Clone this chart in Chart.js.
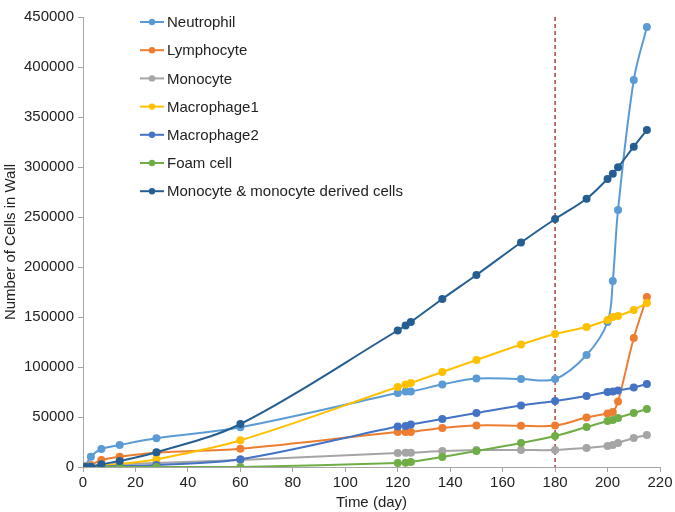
<!DOCTYPE html>
<html>
<head>
<meta charset="utf-8">
<script src="https://cdn.jsdelivr.net/npm/chart.js@4.4.1/dist/chart.umd.min.js"></script>
<style>
  html, body { margin: 0; padding: 0; background: #fff; }
  canvas { display: block; }
</style>
</head>
<body>
<canvas id="myChart" width="675" height="512"></canvas>
<script>
// time points (day)
const days = [1, 3, 7, 14, 28, 60, 120, 123, 125, 137, 150, 167, 180, 192, 200, 202, 204, 210, 215];

const neutrophil  = [1000, 10300, 18000, 22000, 28700, 39700, 74000, 75500, 75500, 82500, 88500, 88000, 88000, 112000, 145000, 186000, 257000, 387000, 440000];
const lymphocyte  = [500, 2000, 7000, 10300, 14300, 18300, 35000, 35000, 35000, 39000, 41500, 41300, 41500, 49500, 53500, 55000, 65500, 129000, 170000];
const monocyte    = [500, 1000, 2000, 3000, 4000, 7000, 14000, 14300, 14300, 16000, 17000, 17000, 17000, 19000, 21000, 22000, 24000, 29000, 32000];
const macrophage1 = [0, 300, 1300, 3000, 7700, 26700, 80000, 82500, 84000, 95000, 107000, 122500, 133000, 140000, 147000, 150000, 151000, 157000, 164000];
const macrophage2 = [0, 0, 300, 1000, 2000, 7700, 40500, 41000, 42500, 48000, 54000, 61500, 66000, 71000, 75000, 75500, 76500, 79500, 83000];
const foamCell    = [0, 0, 0, 0, 0, 0, 4000, 4300, 5000, 10000, 16000, 24000, 31000, 40000, 46000, 47000, 49000, 54000, 58000];
const monoDerived = [0, 300, 2700, 6000, 14700, 43000, 136500, 141500, 145000, 168000, 192000, 224500, 248000, 268300, 288000, 293300, 299700, 320300, 337000];

const seriesNames = ['Neutrophil', 'Lymphocyte', 'Monocyte', 'Macrophage1', 'Macrophage2', 'Foam cell', 'Monocyte & monocyte derived cells'];
const seriesValues = [neutrophil, lymphocyte, monocyte, macrophage1, macrophage2, foamCell, monoDerived];
const seriesColors = ['#5B9BD5', '#ED7D31', '#A5A5A5', '#FFC000', '#4472C4', '#70AD47', '#255E91'];

const markerDay = 180;
const yTicksMax = 450000;
const fontFamily = '"Liberation Sans", Arial, sans-serif';

function makeDatasets() {
    let sets = [];
    for (let i = 0; i < seriesNames.length; i++) {
        sets.push({
            label: seriesNames[i],
            data: days.map((d, j) => ({ x: d, y: seriesValues[i][j] })),
            borderColor: seriesColors[i],
            backgroundColor: seriesColors[i],
            borderWidth: 2,
            pointRadius: 4,
            pointHoverRadius: 4,
            pointBorderWidth: 0,
            tension: 0.35,
            fill: false,
            order: seriesNames.length - i
        });
    }
    return sets;
}

// dashed red line at day 180
const markerLine = {
    id: 'markerLine',
    beforeDatasetsDraw(chart) {
        const ctx = chart.ctx;
        const x = chart.scales.x.getPixelForValue(markerDay);
        ctx.save();
        ctx.strokeStyle = '#B0413E';
        ctx.lineWidth = 1.5;
        ctx.setLineDash([4, 3]);
        ctx.beginPath();
        ctx.moveTo(x, chart.chartArea.top);
        ctx.lineTo(x, chart.chartArea.bottom);
        ctx.stroke();
        ctx.restore();
    }
};

// legend inside the plot, top left
const insideLegend = {
    id: 'insideLegend',
    afterDraw(chart) {
        const ctx = chart.ctx;
        const left = chart.chartArea.left + 57;
        let y = chart.chartArea.top + 5;
        ctx.save();
        ctx.font = '15px ' + fontFamily;
        ctx.textBaseline = 'middle';
        chart.data.datasets.forEach(ds => {
            ctx.strokeStyle = ds.borderColor;
            ctx.fillStyle = ds.borderColor;
            ctx.lineWidth = 2;
            ctx.beginPath();
            ctx.moveTo(left, y);
            ctx.lineTo(left + 24, y);
            ctx.stroke();
            ctx.beginPath();
            ctx.arc(left + 12, y, 3.2, 0, Math.PI * 2);
            ctx.fill();
            ctx.fillStyle = '#222';
            ctx.fillText(ds.label, left + 27, y + 1);
            y += 28.2;
        });
        ctx.restore();
    }
};

const ctx = document.getElementById('myChart').getContext('2d');
const myChart = new Chart(ctx, {
    type: 'line',
    data: { datasets: makeDatasets() },
    options: {
        responsive: false,
        animation: false,
        layout: { padding: { left: 2, right: 15, top: 17, bottom: 0 } },
        plugins: {
            legend: { display: false },
            tooltip: { enabled: false }
        },
        scales: {
            x: {
                type: 'linear',
                min: 0,
                max: 220,
                ticks: {
                    stepSize: 20,
                    color: '#222',
                    font: { family: fontFamily, size: 15 },
                    padding: 2,
                    maxRotation: 0
                },
                grid: {
                    drawOnChartArea: false,
                    drawTicks: true,
                    tickLength: 5,
                    color: '#A6A6A6'
                },
                border: { color: '#A6A6A6', width: 1 },
                title: {
                    display: true,
                    text: 'Time (day)',
                    color: '#222',
                    font: { family: fontFamily, size: 15 },
                    padding: { top: 0, bottom: 0 }
                },
                afterFit(scale) { scale.height = 45; }
            },
            y: {
                min: 0,
                max: yTicksMax,
                ticks: {
                    stepSize: 50000,
                    color: '#222',
                    font: { family: fontFamily, size: 15 },
                    padding: 4,
                    callback: v => String(v)
                },
                grid: {
                    drawOnChartArea: false,
                    drawTicks: true,
                    tickLength: 5,
                    color: '#A6A6A6'
                },
                border: { color: '#A6A6A6', width: 1 },
                title: {
                    display: true,
                    text: 'Number of Cells in Wall',
                    color: '#222',
                    font: { family: fontFamily, size: 15 },
                    padding: { top: 0, bottom: 0 }
                },
                afterFit(scale) { scale.width = 81; }
            }
        }
    },
    plugins: [markerLine, insideLegend]
});
</script>
</body>
</html>
